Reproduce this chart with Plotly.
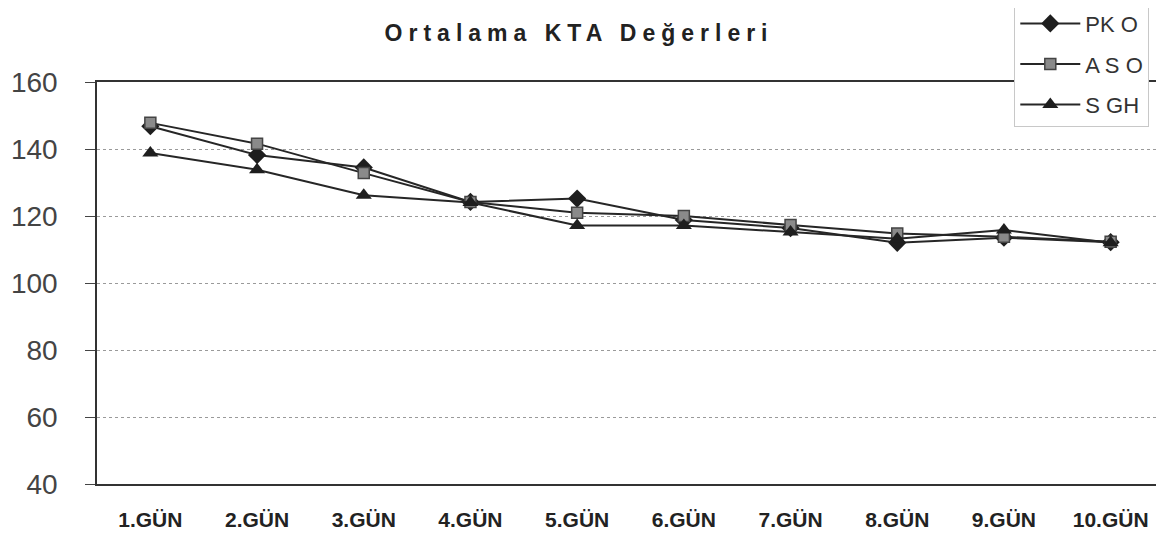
import plotly.graph_objects as go

categories = ["1.GÜN", "2.GÜN", "3.GÜN", "4.GÜN", "5.GÜN", "6.GÜN", "7.GÜN", "8.GÜN", "9.GÜN", "10.GÜN"]
pk_o = [146.8, 138.2, 134.5, 124.2, 125.2, 118.8, 116.4, 112.0, 113.5, 112.2]
as_o = [147.8, 141.6, 132.8, 124.2, 121.0, 120.0, 117.3, 114.8, 113.8, 112.3]
s_gh = [138.8, 133.8, 126.2, 124.0, 117.2, 117.2, 115.2, 113.2, 115.8, 112.0]
y_ticks = [40, 60, 80, 100, 120, 140, 160]

line_col = "#262626"

fig = go.Figure()
fig.add_trace(go.Scatter(x=categories, y=pk_o, name="PK O", mode="lines+markers",
                         legendgroup="a",
                         line=dict(color=line_col, width=2),
                         marker=dict(symbol="diamond", size=14, color="#1e1e1e")))
fig.add_trace(go.Scatter(x=categories, y=as_o, name="A S O", mode="lines+markers",
                         legendgroup="b",
                         line=dict(color=line_col, width=2),
                         marker=dict(symbol="square", size=11, color="#8a8a8a",
                                     line=dict(color="#444444", width=1.5))))
fig.add_trace(go.Scatter(x=categories, y=s_gh, name="S GH", mode="lines+markers",
                         legendgroup="c",
                         line=dict(color=line_col, width=2),
                         marker=dict(symbol="triangle-up", size=14, color="#1e1e1e")))

fig.update_layout(
    width=1156, height=528,
    margin=dict(l=89, r=0, t=74, b=52, autoexpand=False),
    paper_bgcolor="white", plot_bgcolor="white",
    font=dict(family="Liberation Sans, Arial, sans-serif", color="#222222"),
    title=dict(text='<span style="letter-spacing:6px">Ortalama KTA Değerleri</span>',
               x=0.494, xanchor="center", y=0.953, yanchor="middle",
               font=dict(size=23, color="#222222", weight="bold")),
    showlegend=True,
    legend=dict(x=0.8597, xanchor="left", y=1.2, yanchor="top",
                bgcolor="white", bordercolor="#c8c8c8", borderwidth=1,
                font=dict(size=22, color="#333333"),
                itemwidth=60, tracegroupgap=9),
    xaxis=dict(type="category", range=[-0.5, 9.5],
               showline=True, linecolor="#333333", linewidth=1.5, mirror=True,
               showgrid=False, ticks="", ticklabelstandoff=16,
               tickfont=dict(size=21, color="#222222", weight="bold")),
    yaxis=dict(range=[40, 160], tickvals=y_ticks,
               showline=True, linecolor="#333333", linewidth=1.5,
               ticks="outside", ticklen=10, tickcolor="#444444",
               ticklabelstandoff=22,
               showgrid=True, gridcolor="#9a9a9a", griddash="dot", gridwidth=1,
               zeroline=False,
               tickfont=dict(size=28, color="#444444")),
)

fig.write_html("out.html")
